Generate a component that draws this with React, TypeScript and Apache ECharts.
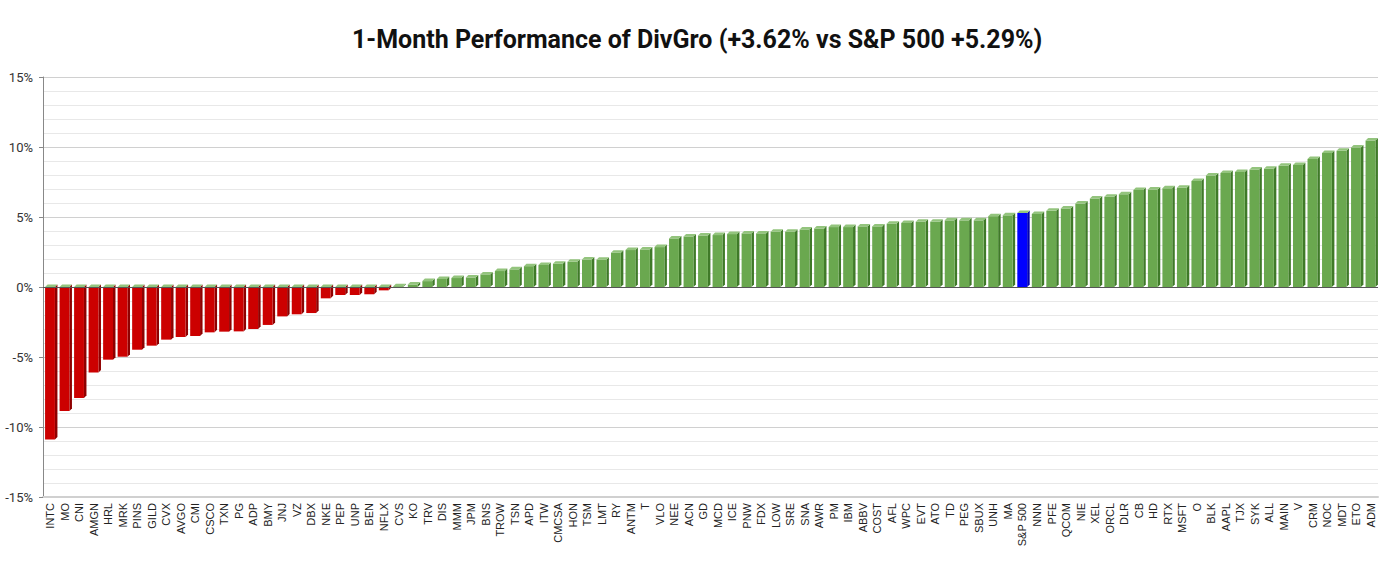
import React, { useEffect, useRef } from "react";
import * as echarts from "echarts";

const TITLE = "1-Month Performance of DivGro (+3.62% vs S&P 500 +5.29%)";

const categories: string[] = [
  "INTC", "MO", "CNI", "AMGN", "HRL", "MRK", "PINS", "GILD", "CVX", "AVGO",
  "CMI", "CSCO", "TXN", "PG", "ADP", "BMY", "JNJ", "VZ", "DBX", "NKE",
  "PEP", "UNP", "BEN", "NFLX", "CVS", "KO", "TRV", "DIS", "MMM", "JPM",
  "BNS", "TROW", "TSN", "APD", "ITW", "CMCSA", "HON", "TSM", "LMT", "RY",
  "ANTM", "T", "VLO", "NEE", "ACN", "GD", "MCD", "ICE", "PNW", "FDX",
  "LOW", "SRE", "SNA", "AWR", "PM", "IBM", "ABBV", "COST", "AFL", "WPC",
  "EVT", "ATO", "TD", "PEG", "SBUX", "UNH", "MA", "S&P 500", "NNN", "PFE",
  "QCOM", "NIE", "XEL", "ORCL", "DLR", "CB", "HD", "RTX", "MSFT", "O",
  "BLK", "AAPL", "TJX", "SYK", "ALL", "MAIN", "V", "CRM", "NOC", "MDT",
  "ETO", "ADM",
];

const performance: number[] = [
  -10.9, -8.86, -7.93, -6.1, -5.19, -4.98, -4.48, -4.19, -3.76, -3.57,
  -3.5, -3.24, -3.19, -3.17, -3.0, -2.71, -2.1, -1.95, -1.86, -0.81,
  -0.57, -0.57, -0.52, -0.24, 0.06, 0.18, 0.42, 0.57, 0.64, 0.68,
  0.9, 1.14, 1.26, 1.49, 1.57, 1.66, 1.8, 1.96, 1.95, 2.45,
  2.64, 2.68, 2.85, 3.47, 3.61, 3.68, 3.71, 3.78, 3.83, 3.83,
  3.95, 3.95, 4.11, 4.18, 4.28, 4.28, 4.33, 4.33, 4.52, 4.57,
  4.66, 4.66, 4.76, 4.76, 4.76, 5.06, 5.12, 5.29, 5.22, 5.44,
  5.61, 5.96, 6.32, 6.45, 6.62, 6.93, 6.97, 7.05, 7.09, 7.57,
  7.97, 8.14, 8.21, 8.4, 8.45, 8.66, 8.71, 9.14, 9.57, 9.74,
  9.97, 10.47,
];

const yTicks = { min: -15, max: 15, interval: 5 };

const BENCHMARK = "S&P 500";

export default function App() {
  const ref = useRef<HTMLDivElement>(null);

  useEffect(() => {
    if (!ref.current) return;
    const chart = echarts.init(ref.current, undefined, { renderer: "svg" });

    const data = categories.map((c, i) => [i, performance[i], c]);

    const renderItem = (params: any, api: any) => {
      const idx = api.value(0);
      const val = api.value(1);
      const name = categories[idx];
      const p0 = api.coord([idx, 0]);
      const p1 = api.coord([idx, val]);
      const band = api.size([1, 0])[0];
      const w = band * 0.68;
      const d = 2.5;
      const x0 = p0[0] - (w + d) / 2 + 1;
      const yTop = Math.min(p0[1], p1[1]);
      const yBot = Math.max(p0[1], p1[1]);
      let front = "#6aa84f";
      let side = "#3f7a28";
      const top = "#93c47d";
      if (name === BENCHMARK) {
        front = "#0000ff";
        side = "#0000b0";
      } else if (val < 0) {
        front = "#cc0000";
        side = "#8f0000";
      }
      return {
        type: "group",
        children: [
          {
            type: "polygon",
            shape: {
              points: [
                [x0 + w, yTop],
                [x0 + w + d, yTop - d],
                [x0 + w + d, yBot - d],
                [x0 + w, yBot],
              ],
            },
            style: { fill: side },
          },
          {
            type: "rect",
            shape: { x: x0, y: yTop, width: w, height: Math.max(yBot - yTop, 0.5) },
            style: { fill: front },
          },
          {
            type: "polygon",
            shape: {
              points: [
                [x0, yTop],
                [x0 + d, yTop - d],
                [x0 + w + d, yTop - d],
                [x0 + w, yTop],
              ],
            },
            style: { fill: top },
          },
        ],
      };
    };

    chart.setOption({
      animation: false,
      backgroundColor: "#ffffff",
      title: {
        text: TITLE,
        left: 347,
        top: 22,
        textStyle: {
          fontFamily: "Roboto",
          fontWeight: "bold",
          fontSize: 25,
          color: "#111111",
        },
      },
      grid: { left: 43, right: 22, top: 77, bottom: 77 },
      xAxis: {
        type: "category",
        data: categories,
        axisLine: { onZero: false, lineStyle: { color: "#d0d0d0", width: 2 } },
        axisTick: { show: false },
        splitLine: { show: false },
        axisLabel: {
          interval: 0,
          rotate: 90,
          fontFamily: "Liberation Sans",
          fontSize: 11,
          color: "#222222",
          margin: 6,
        },
      },
      yAxis: {
        type: "value",
        min: yTicks.min,
        max: yTicks.max,
        interval: yTicks.interval,
        axisLine: { show: true, lineStyle: { color: "#888888", width: 1 } },
        axisTick: { show: true, inside: false, length: 4, lineStyle: { color: "#888888" } },
        axisLabel: {
          formatter: "{value}%",
          fontFamily: "Roboto",
          fontSize: 13,
          color: "#333333",
          margin: 10,
        },
        splitLine: { show: true, lineStyle: { color: "#d0d0d0", width: 1 } },
        minorTick: { show: false, splitNumber: 5 },
        minorSplitLine: { show: true, lineStyle: { color: "#e8e8e8", width: 1 } },
      },
      series: [
        {
          type: "custom",
          renderItem,
          data,
          encode: { x: 0, y: 1 },
          clip: false,
          z: 3,
        },
        {
          type: "line",
          data: [],
          silent: true,
          markLine: {
            symbol: "none",
            silent: true,
            label: { show: false },
            lineStyle: { color: "#555555", width: 1, type: "solid" },
            data: [{ yAxis: 0 }],
          },
          z: 2,
        },
      ],
    });

    return () => chart.dispose();
  }, []);

  return (
    <div
      ref={ref}
      style={{ position: "absolute", left: 0, top: 0, width: 1400, height: 574 }}
    />
  );
}
